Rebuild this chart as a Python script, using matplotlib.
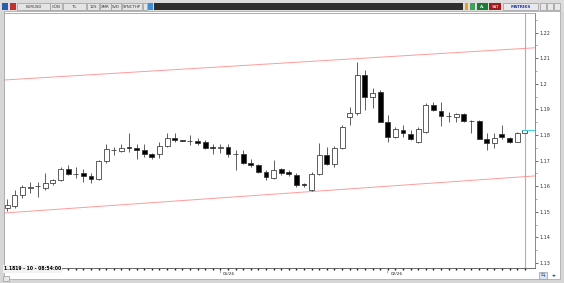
import matplotlib.pyplot as plt
from matplotlib.patches import Rectangle

# EURUSD daily candles
opens = [1.1516, 1.1523, 1.1566, 1.1593, 1.1601, 1.1593, 1.1612, 1.1624, 1.1667, 1.1648,
         1.1652, 1.1638, 1.1628, 1.1698, 1.1741, 1.1738, 1.1753, 1.1749, 1.1741, 1.1726,
         1.1726, 1.1757, 1.1788, 1.1779, 1.1777, 1.1777, 1.1771, 1.1753, 1.1751, 1.1753,
         1.1726, 1.1726, 1.1691, 1.1681, 1.1655, 1.1632, 1.1667, 1.1655, 1.1644, 1.1609,
         1.1585, 1.1648, 1.1722, 1.1687, 1.1749, 1.1870, 1.1886, 1.2034, 1.1948, 1.1968,
         1.1851, 1.1792, 1.1820, 1.1804, 1.1773, 1.1812, 1.1917, 1.1894, 1.1874, 1.1870,
         1.1882, 1.1855, 1.1855, 1.1784, 1.1769, 1.1804, 1.1788, 1.1773, 1.1808]
highs = [1.1550, 1.1585, 1.1605, 1.1616, 1.1616, 1.1652, 1.1628, 1.1675, 1.1683, 1.1675,
         1.1667, 1.1652, 1.1702, 1.1765, 1.1753, 1.1765, 1.1808, 1.1765, 1.1765, 1.1730,
         1.1773, 1.1808, 1.1808, 1.1780, 1.1800, 1.1788, 1.1780, 1.1765, 1.1765, 1.1765,
         1.1741, 1.1741, 1.1706, 1.1687, 1.1663, 1.1702, 1.1671, 1.1663, 1.1652, 1.1613,
         1.1655, 1.1769, 1.1753, 1.1757, 1.1839, 1.1909, 1.2085, 1.2054, 1.1984, 1.1976,
         1.1878, 1.1831, 1.1839, 1.1820, 1.1831, 1.1925, 1.1929, 1.1929, 1.1890, 1.1886,
         1.1886, 1.1859, 1.1859, 1.1808, 1.1808, 1.1839, 1.1792, 1.1812, 1.1820]
lows = [1.1503, 1.1515, 1.1554, 1.1573, 1.1558, 1.1585, 1.1605, 1.1620, 1.1644, 1.1632,
        1.1616, 1.1612, 1.1624, 1.1691, 1.1722, 1.1734, 1.1734, 1.1706, 1.1714, 1.1706,
        1.1710, 1.1753, 1.1773, 1.1775, 1.1761, 1.1761, 1.1745, 1.1726, 1.1730, 1.1714,
        1.1663, 1.1687, 1.1675, 1.1652, 1.1624, 1.1628, 1.1644, 1.1640, 1.1597, 1.1597,
        1.1581, 1.1644, 1.1683, 1.1675, 1.1745, 1.1839, 1.1878, 1.1898, 1.1905, 1.1851,
        1.1773, 1.1788, 1.1792, 1.1780, 1.1769, 1.1808, 1.1894, 1.1835, 1.1851, 1.1851,
        1.1851, 1.1808, 1.1784, 1.1741, 1.1749, 1.1784, 1.1769, 1.1773, 1.1808]
closes = [1.1527, 1.1566, 1.1597, 1.1595, 1.1602, 1.1612, 1.1624, 1.1667, 1.1648, 1.1647,
          1.1640, 1.1628, 1.1698, 1.1745, 1.1742, 1.1749, 1.1751, 1.1741, 1.1726, 1.1714,
          1.1757, 1.1788, 1.1780, 1.1777, 1.1776, 1.1769, 1.1749, 1.1751, 1.1753, 1.1726,
          1.1725, 1.1691, 1.1683, 1.1655, 1.1636, 1.1663, 1.1652, 1.1648, 1.1605, 1.1603,
          1.1648, 1.1722, 1.1687, 1.1749, 1.1831, 1.1886, 1.2034, 1.1948, 1.1964, 1.1851,
          1.1792, 1.1823, 1.1808, 1.1784, 1.1823, 1.1917, 1.1898, 1.1874, 1.1875, 1.1882,
          1.1855, 1.1854, 1.1784, 1.1769, 1.1788, 1.1792, 1.1773, 1.1808, 1.1819]

# trend channel (start / end price)
upper_line = [1.2015, 1.2141]
lower_line = [1.1495, 1.1640]

price_ticks = [1.13, 1.14, 1.15, 1.16, 1.17, 1.18, 1.19, 1.20, 1.21, 1.22]
price_labels = ["1.13", "1.14", "1.15", "1.16", "1.17", "1.18", "1.19", "1.2", "1.21", "1.22"]
month_marks = {28: "01/26", 50: "02/26"}
last_info = "1.1819 - 10 - 08:54:00"

W, H = 564, 283
fig = plt.figure(figsize=(W / 100, H / 100), dpi=100)
fig.patch.set_facecolor("#d6d6d6")

# window chrome drawn in pixel coordinates
ch = fig.add_axes([0, 0, 1, 1], zorder=0)
ch.set_xlim(0, W)
ch.set_ylim(H, 0)
ch.axis("off")


def box(x, y, w, h, fc, ec="#9a9a9a", lw=0.5):
    ch.add_patch(Rectangle((x, y), w, h, facecolor=fc, edgecolor=ec, lw=lw))


box(0, 0, W, 12, "#dcdcdc", ec="none")
box(4, 11, 556, 268, "white", ec="#a0a0a0")
box(2, 3, 6, 7, "#2a5db0", ec="none")
box(10, 3, 6, 7, "#c03030", ec="none")
tool = [(17, 33, "EURUSD"), (50, 12, "GÜN"), (63, 23, "TL"), (87, 12, "12S"),
        (100, 11, "XMR"), (111, 10, "5VD"), (122, 20, "SYNCTHP")]
for x, w, t in tool:
    box(x, 3, w, 7, "#e4e4e4")
    ch.text(x + w / 2, 6.6, t, fontsize=2.8, ha="center", va="center", color="#333333")
box(143, 3, 4, 7, "#e4e4e4")
box(148, 3, 5, 7, "#3b8fd8", ec="none")
box(154, 3, 309, 7, "#2e2e2e", ec="none")
box(465, 3, 3, 7, "#e8a020", ec="none")
box(470, 3, 5, 7, "#40a060", ec="none")
box(477, 3, 11, 7, "#1f7a3a", ec="none")
ch.text(482.5, 6.6, "AL", fontsize=2.8, ha="center", va="center", color="white")
box(489, 3, 12, 7, "#a01c1c", ec="none")
ch.text(495, 6.6, "SAT", fontsize=2.8, ha="center", va="center", color="white")
box(503, 3, 35, 7, "#e8e8ee")
ch.text(520.5, 6.6, "MATRIKS", fontsize=3, ha="center", va="center", color="#2040a0",
        fontweight="bold")
for x in (540, 547, 554):
    box(x, 3, 6, 7, "#e8e8e8")
box(3, 276, 6, 5, "#e8e8e8")
box(539, 272, 8, 7, "#dde4f0")
ch.text(543, 275.5, "⇆", fontsize=4, ha="center", va="center", color="#2a5db0")
ch.text(554, 275.5, "◂▸", fontsize=3.5, ha="center", va="center", color="#2a5db0")

# price chart
ax = fig.add_axes([4 / W, (H - 268) / H, 531 / W, 255 / H], zorder=1)
n = len(opens)
xs = list(range(n))
ax.set_xlim(-0.43, 69.35)
ax.set_ylim(1.1280, 1.2277)

ax.plot([-0.43, 69.35], upper_line, color="#ff9a9a", lw=0.7)
ax.plot([-0.43, 69.35], lower_line, color="#ff9a9a", lw=0.7)
ax.axvline(n - 1, color="#b0b0b0", lw=0.8)

ax.vlines(xs, lows, highs, color="#333333", lw=0.55)
bottoms = [min(o, c) for o, c in zip(opens, closes)]
heights = [abs(c - o) for o, c in zip(opens, closes)]
fills = ["white" if c >= o else "black" for o, c in zip(opens, closes)]
ax.bar(xs, heights, bottom=bottoms, width=0.64, color=fills,
       edgecolor="#333333", lw=0.55, zorder=3)
ax.plot([n - 1.4, 69.35], [closes[-1], closes[-1]], color="#40d0e0", lw=0.7, zorder=4)

ax.yaxis.tick_right()
ax.set_yticks(price_ticks)
ax.set_yticklabels(price_labels)
ax.set_yticks([t + 0.005 for t in price_ticks], minor=True)
ax.tick_params(axis="y", which="major", length=2.5, width=0.5, pad=1,
               labelsize=3.5, colors="#333333")
ax.tick_params(axis="y", which="minor", length=1.5, width=0.4, colors="#666666")

ax.set_xticks(xs)
ax.set_xticklabels([])
ax.tick_params(axis="x", length=1.5, width=1.0, colors="#222222")
for i, lab in month_marks.items():
    ax.annotate(lab, xy=(i, 0), xycoords=("data", "axes fraction"),
                xytext=(2, -4.5), textcoords="offset points",
                fontsize=3.1, ha="left", va="center", color="#222222")
    ax.annotate("", xy=(i, 0), xycoords=("data", "axes fraction"),
                xytext=(i, -0.03), textcoords=("data", "axes fraction"),
                arrowprops=dict(arrowstyle="-", color="#888888", lw=0.5))

for s in ("left", "top"):
    ax.spines[s].set_color("#a0a0a0")
    ax.spines[s].set_linewidth(0.6)
ax.spines["right"].set_color("#777777")
ax.spines["right"].set_linewidth(0.6)
ax.spines["bottom"].set_color("#555555")
ax.spines["bottom"].set_linewidth(0.6)

# last price / bar info box over the bottom-left corner
fig.text(4 / W, 1 - 269 / H, last_info, fontsize=3.3, ha="left", va="center",
         color="black", fontweight="bold", zorder=5,
         bbox=dict(boxstyle="square,pad=0.25", facecolor="#f2f2f2", edgecolor="none"))

plt.savefig("out.png", dpi=100, facecolor=fig.get_facecolor())
